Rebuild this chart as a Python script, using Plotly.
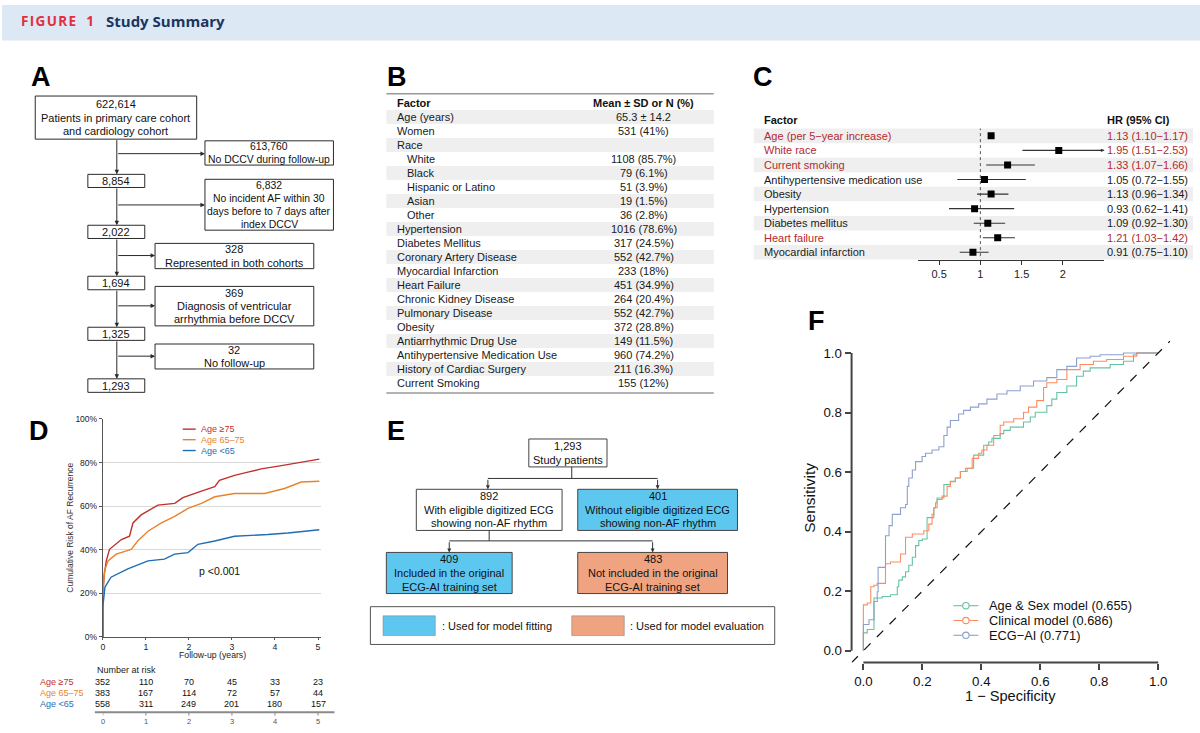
import plotly.graph_objects as go

W, H = 1200, 733


def P(x):
    return x / W


def Q(y):
    return 1 - y / H


FONT = "Liberation Sans, Arial, Helvetica, sans-serif"

# ------------------------------------------------------------------ data
# Panel A : cohort flow
flow_main_counts = ["622,614", "8,854", "2,022", "1,694", "1,325", "1,293"]
flow_first_label = ["Patients in primary care cohort", "and cardiology cohort"]
flow_excl_counts = ["613,760", "6,832", "328", "369", "32"]
flow_excl_labels = [
    ["No DCCV during follow-up"],
    ["No incident AF within 30", "days before to 7 days after", "index DCCV"],
    ["Represented in both cohorts"],
    ["Diagnosis of ventricular", "arrhythmia before DCCV"],
    ["No follow-up"],
]

# Panel B : baseline table
b_header = ["Factor", "Mean ± SD or N (%)"]
b_factors = ["Age (years)", "Women", "Race", "White", "Black", "Hispanic or Latino",
             "Asian", "Other", "Hypertension", "Diabetes Mellitus",
             "Coronary Artery Disease", "Myocardial Infarction", "Heart Failure",
             "Chronic Kidney Disease", "Pulmonary Disease", "Obesity",
             "Antiarrhythmic Drug Use", "Antihypertensive Medication Use",
             "History of Cardiac Surgery", "Current Smoking"]
b_indent = [0, 0, 0, 1, 1, 1, 1, 1, 0, 0, 0, 0, 0, 0, 0, 0, 0, 0, 0, 0]
b_values = ["65.3 ± 14.2", "531 (41%)", "", "1108 (85.7%)", "79 (6.1%)", "51 (3.9%)",
            "19 (1.5%)", "36 (2.8%)", "1016 (78.6%)", "317 (24.5%)", "552 (42.7%)",
            "233 (18%)", "451 (34.9%)", "264 (20.4%)", "552 (42.7%)", "372 (28.8%)",
            "149 (11.5%)", "960 (74.2%)", "211 (16.3%)", "155 (12%)"]

# Panel C : hazard ratios
c_header = ["Factor", "HR (95% CI)"]
c_factors = ["Age (per 5\u2212year increase)", "White race", "Current smoking",
             "Antihypertensive medication use", "Obesity", "Hypertension",
             "Diabetes mellitus", "Heart failure", "Myocardial infarction"]
c_hr = [1.13, 1.95, 1.33, 1.05, 1.13, 0.93, 1.09, 1.21, 0.91]
c_lo = [1.10, 1.51, 1.07, 0.72, 0.96, 0.62, 0.92, 1.03, 0.75]
c_hi = [1.17, 2.53, 1.66, 1.55, 1.34, 1.41, 1.30, 1.42, 1.10]
c_sig = [True, True, True, False, False, False, False, True, False]
c_ticks = [0.5, 1, 1.5, 2]
c_ticktext = ["0.5", "1", "1.5", "2"]

# Panel D : cumulative incidence
km_names = ["Age \u226575", "Age 65\u201375", "Age <65"]
km_t_75 = [0, 0, 0.03, 0.08, 0.155, 0.31, 0.43, 0.62, 0.70, 0.89, 1.085, 1.28,
           1.67, 1.86, 2.29, 2.60, 2.71, 3.06, 3.37, 3.68, 4.15, 4.61, 5.03]
km_r_75 = [0, 0.20, 0.28, 0.349, 0.402, 0.425, 0.447, 0.462, 0.523, 0.56, 0.583,
           0.605, 0.613, 0.639, 0.669, 0.689, 0.718, 0.741, 0.756, 0.771, 0.786,
           0.801, 0.816]
km_t_6575 = [0, 0, 0.04, 0.12, 0.31, 0.66, 0.81, 1.05, 1.36, 1.67, 1.98, 2.29,
             2.60, 3.06, 3.76, 4.22, 4.61, 5.03]
km_r_6575 = [0, 0.20, 0.304, 0.349, 0.38, 0.402, 0.44, 0.485, 0.523, 0.553, 0.59,
             0.613, 0.643, 0.658, 0.658, 0.681, 0.711, 0.714]
km_t_65 = [0, 0, 0.05, 0.19, 0.58, 1.05, 1.43, 1.67, 1.98, 2.21, 2.60, 3.06, 3.83,
           4.30, 5.03]
km_r_65 = [0, 0.139, 0.229, 0.274, 0.312, 0.349, 0.357, 0.38, 0.387, 0.425, 0.44,
           0.462, 0.47, 0.477, 0.492]
km_yticks = [0, 0.2, 0.4, 0.6, 0.8, 1.0]
km_yticktext = ["0%", "20%", "40%", "60%", "80%", "100%"]
risk_times = [0, 1, 2, 3, 4, 5]
risk_75 = [352, 110, 70, 45, 33, 23]
risk_6575 = [383, 167, 114, 72, 57, 44]
risk_65 = [558, 311, 249, 201, 180, 157]
p_text = "p <0.001"

# Panel E : ECG flow
e_top = ["1,293", "Study patients"]
e_mid_left = ["892", "With eligible digitized ECG", "showing non-AF rhythm"]
e_mid_right = ["401", "Without eligible digitized ECG", "showing non-AF rhythm"]
e_bot_left = ["409", "Included in the original", "ECG-AI training set"]
e_bot_right = ["483", "Not included in the original", "ECG-AI training set"]
e_legend = [": Used for model fitting", ": Used for model evaluation"]

# Panel F : ROC curves
roc_names = ["Age & Sex model", "Clinical model", "ECG\u2212AI"]
roc_auc = [0.655, 0.686, 0.771]
roc_fpr_agesex = [0, 0, 0.013, 0.036, 0.036, 0.064, 0.092, 0.115, 0.12, 0.132, 0.143,
                  0.154, 0.166, 0.177, 0.188, 0.2, 0.216, 0.239, 0.245, 0.25, 0.273,
                  0.295, 0.312, 0.329, 0.352, 0.374, 0.408, 0.425, 0.436, 0.464,
                  0.476, 0.498, 0.543, 0.566, 0.583, 0.622, 0.639, 0.656, 0.69,
                  0.723, 0.746, 0.769, 0.837, 0.882, 0.916, 0.927, 1]
roc_tpr_agesex = [0, 0.049, 0.06, 0.071, 0.165, 0.177, 0.182, 0.188, 0.215, 0.237,
                  0.248, 0.265, 0.287, 0.314, 0.353, 0.37, 0.375, 0.447, 0.48, 0.497,
                  0.513, 0.558, 0.569, 0.58, 0.602, 0.613, 0.657, 0.69, 0.701, 0.713,
                  0.729, 0.74, 0.751, 0.768, 0.785, 0.801, 0.823, 0.845, 0.867,
                  0.889, 0.922, 0.939, 0.95, 0.961, 0.972, 0.994, 1]
roc_fpr_clin = [0, 0, 0.013, 0.025, 0.036, 0.047, 0.075, 0.075, 0.092, 0.126, 0.143,
                0.166, 0.205, 0.222, 0.233, 0.239, 0.25, 0.25, 0.267, 0.284, 0.295,
                0.312, 0.329, 0.346, 0.369, 0.391, 0.402, 0.419, 0.442, 0.464, 0.476,
                0.51, 0.543, 0.56, 0.588, 0.611, 0.622, 0.656, 0.69, 0.735, 0.78,
                0.825, 0.882, 0.927, 1]
roc_tpr_clin = [0, 0.054, 0.154, 0.16, 0.215, 0.22, 0.226, 0.27, 0.292, 0.298, 0.325,
                0.381, 0.392, 0.403, 0.425, 0.458, 0.48, 0.497, 0.508, 0.519, 0.552,
                0.568, 0.58, 0.602, 0.613, 0.646, 0.663, 0.674, 0.69, 0.723, 0.757,
                0.768, 0.779, 0.801, 0.818, 0.84, 0.884, 0.9, 0.911, 0.944, 0.961,
                0.972, 0.978, 0.989, 1]
roc_fpr_ecg = [0, 0, 0.019, 0.036, 0.036, 0.047, 0.05, 0.075, 0.087, 0.098, 0.126,
               0.143, 0.149, 0.154, 0.166, 0.177, 0.199, 0.211, 0.233, 0.256, 0.273,
               0.284, 0.295, 0.323, 0.34, 0.363, 0.391, 0.419, 0.453, 0.487, 0.532,
               0.577, 0.622, 0.656, 0.69, 0.723, 0.769, 0.803, 0.882, 0.927, 1]
roc_tpr_ecg = [0, 0.077, 0.088, 0.104, 0.137, 0.165, 0.198, 0.28, 0.386, 0.42, 0.458,
               0.48, 0.491, 0.552, 0.58, 0.607, 0.635, 0.652, 0.663, 0.674, 0.685,
               0.723, 0.751, 0.773, 0.795, 0.807, 0.818, 0.829, 0.845, 0.862, 0.873,
               0.889, 0.906, 0.917, 0.944, 0.955, 0.983, 0.989, 0.994, 1.0, 1.0]
roc_ticks = [0, 0.2, 0.4, 0.6, 0.8, 1.0]
roc_ticktext = ["0.0", "0.2", "0.4", "0.6", "0.8", "1.0"]

# ------------------------------------------------------------------ styles
RED_C = "#b5292f"
KM_COLORS = ["#c0312d", "#e8832c", "#1f6db4"]
ROC_COLORS = ["#66c2a5", "#fc8d62", "#8da0cb"]
BLUE_BOX = "#5ec7ef"
SALMON_BOX = "#f0a380"
BAND = "#efefef"

shapes = []
annotations = []


def rect(x0, y0, x1, y1, fill="rgba(0,0,0,0)", line="#2a2a2a", lw=1.0):
    shapes.append(dict(type="rect", xref="paper", yref="paper",
                       x0=P(x0), x1=P(x1), y0=Q(y1), y1=Q(y0),
                       line=dict(color=line, width=lw), fillcolor=fill, layer="below"))


def seg(x0, y0, x1, y1, color="#2a2a2a", width=1.0, dash="solid"):
    shapes.append(dict(type="line", xref="paper", yref="paper",
                       x0=P(x0), x1=P(x1), y0=Q(y0), y1=Q(y1),
                       line=dict(color=color, width=width, dash=dash)))


def txt(x, y, s, size=11, color="#111", xa="center", ya="middle", family=FONT, angle=0):
    annotations.append(dict(xref="paper", yref="paper", x=P(x), y=Q(y), text=s,
                            showarrow=False, xanchor=xa, yanchor=ya, textangle=angle,
                            font=dict(size=size, color=color, family=family),
                            borderpad=0))


def arrow(xt, yt, xh, yh, color="#2a2a2a", size=0.9, width=1.0):
    annotations.append(dict(xref="paper", yref="paper", x=P(xh), y=Q(yh),
                            ax=xt - xh, ay=yt - yh, axref="pixel", ayref="pixel",
                            text="", showarrow=True, arrowhead=2, arrowsize=size,
                            arrowwidth=width, arrowcolor=color, standoff=0))


def box_lines(cx, cy, lines, size=11, spacing=13.4, color="#111"):
    n = len(lines)
    for k, s in enumerate(lines):
        txt(cx, cy + (k - (n - 1) / 2) * spacing, s, size=size, color=color)


# ------------------------------------------------------------------ header
rect(0, 0, 1200, 36, fill="#dde8f5", line="rgba(0,0,0,0)", lw=0)
txt(18, 16.5, "<b>F\u200aI\u200aG\u200aU\u200aR\u200aE\u2002 1</b>", size=13.5,
    color="#e0303f", xa="left", family="Open Sans, Noto Sans, sans-serif")
txt(103, 16, "<b>Study Summary</b>", size=15, color="#1b355f", xa="left",
    family="Open Sans, Noto Sans, sans-serif")

# panel letters
for lab, lx, ly in [("A", 28, 73), ("B", 385, 73), ("C", 751, 73), ("D", 26, 432),
                    ("E", 385, 432), ("F", 806, 320)]:
    txt(lx, ly, "<b>%s</b>" % lab, size=27, color="#000", xa="left")

# ------------------------------------------------------------------ panel A
main_boxes = [(33.3, 92.3, 195, 136), (86, 171.7, 143, 185), (86, 223.3, 143, 236.7),
              (86, 275, 143, 288.7), (86, 326.7, 143, 340), (86, 379, 143, 392.7)]
excl_boxes = [(203.3, 137.7, 332, 162.3), (203.3, 176.7, 332, 228.3),
              (153.3, 241.7, 312.3, 267.3), (153.3, 285.3, 312.3, 325.3),
              (153.3, 343.7, 312.3, 369)]
excl_font = [10.4, 10.4, 11, 11, 11]
excl_arrow_y = [150.7, 202.7, 254, 305, 356]
spine_x = 115
for i, (x0, y0, x1, y1) in enumerate(main_boxes):
    rect(x0, y0, x1, y1, fill="white")
    lines = [flow_main_counts[i]] + (flow_first_label if i == 0 else [])
    box_lines((x0 + x1) / 2, (y0 + y1) / 2, lines)
    if i > 0:
        arrow(spine_x, main_boxes[i - 1][3], spine_x, y0)
for i, (x0, y0, x1, y1) in enumerate(excl_boxes):
    rect(x0, y0, x1, y1, fill="white")
    box_lines((x0 + x1) / 2, (y0 + y1) / 2, [flow_excl_counts[i]] + flow_excl_labels[i],
              size=excl_font[i], spacing=13.1 if excl_font[i] < 11 else 13.4)
    arrow(spine_x, excl_arrow_y[i], x0, excl_arrow_y[i])

# ------------------------------------------------------------------ panel B
b_x0, b_x1 = 385, 713
b_row0 = 99.3
b_dy = 14.2
seg(b_x0, 90, b_x1, 90, color="#9a9a9a", width=1.5)
txt(395, b_row0, "<b>%s</b>" % b_header[0], size=11, xa="left")
txt(643, b_row0, "<b>%s</b>" % b_header[1], size=11)
for i, (f, ind, v) in enumerate(zip(b_factors, b_indent, b_values)):
    yc = b_row0 + (i + 1) * b_dy
    if i % 2 == 0:
        rect(b_x0, yc - b_dy / 2, b_x1, yc + b_dy / 2, fill=BAND, line="rgba(0,0,0,0)", lw=0)
    txt(395 + 9.5 * ind, yc, f, size=11, xa="left", color="#1a1a1a")
    if v:
        txt(643, yc, v, size=11, color="#1a1a1a")
seg(b_x0, b_row0 + 20.7 * b_dy, b_x1, b_row0 + 20.7 * b_dy, color="#9a9a9a", width=1.5)

# ------------------------------------------------------------------ panel C
c_row0 = 132.7
c_dy = 14.75
txt(762, 117, "<b>%s</b>" % c_header[0], size=11, xa="left")
txt(1106, 117, "<b>%s</b>" % c_header[1], size=11, xa="left")
for i, f in enumerate(c_factors):
    yc = c_row0 + i * c_dy
    if i % 2 == 0:
        rect(753, yc - c_dy / 2, 1193, yc + c_dy / 2, fill=BAND, line="rgba(0,0,0,0)", lw=0)
    col = RED_C if c_sig[i] else "#1a1a1a"
    txt(762, yc, f, size=11, xa="left", color=col)
    txt(1106, yc, "%.2f (%.2f\u2212%.2f)" % (c_hr[i], c_lo[i], c_hi[i]), size=11,
        xa="left", color=col)

ci_x, ci_y = [], []
for i in range(len(c_hr)):
    ci_x += [c_lo[i], c_hi[i], None]
    ci_y += [i, i, None]
c_xmax = 2.5
for i in range(len(c_hr)):
    if c_hi[i] > c_xmax:
        annotations.append(dict(xref="x2", yref="y2", x=c_xmax, y=i, ax=-8, ay=0,
                                text="", showarrow=True, arrowhead=2, arrowsize=0.8,
                                arrowwidth=0.8, arrowcolor="#333", standoff=0))
shapes.append(dict(type="line", xref="x2", yref="y2", x0=1, x1=1, y0=-0.6, y1=8.5,
                   line=dict(color="#555", width=1, dash="dot"), layer="below"))

# ------------------------------------------------------------------ panel D
txt(68, 530, "Cumulative Risk of AF Recurrence", size=8.5, color="#333", angle=-90)
txt(211, 659, "Follow-up (years)", size=8.7, color="#222")
txt(218, 574, p_text, size=10.5, color="#111")
leg_y = [430, 440.7, 451.7]
for k in range(3):
    seg(181, leg_y[k], 194, leg_y[k], color=KM_COLORS[k], width=1.4)
    txt(198, leg_y[k], km_names[k], size=9, color=KM_COLORS[k], xa="left")

txt(94, 674, "Number at risk", size=9, color="#222", xa="left")
risk_rows = [risk_75, risk_6575, risk_65]
risk_y = [686, 697.3, 708.7]
for k in range(3):
    txt(37, risk_y[k], km_names[k], size=9, color=KM_COLORS[k], xa="left")
    for t, n in zip(risk_times, risk_rows[k]):
        annotations.append(dict(xref="x", yref="paper", x=t, y=Q(risk_y[k]), text=str(n),
                                showarrow=False, xanchor="center", yanchor="middle",
                                font=dict(size=9, color="#111", family=FONT)))
seg(93, 717, 333, 717, color="#8a8a8a", width=2)
for t in risk_times:
    annotations.append(dict(xref="x", yref="paper", x=t, y=Q(726.5), text=str(t),
                            showarrow=False, xanchor="center", yanchor="middle",
                            font=dict(size=7.5, color="#555", family=FONT)))
    shapes.append(dict(type="line", xref="x", yref="paper", x0=t, x1=t,
                       y0=Q(717), y1=Q(720.5), line=dict(color="#8a8a8a", width=1)))

# ------------------------------------------------------------------ panel E
e_top_box = (527.7, 440, 606, 468.3)
e_ml = (415, 491, 561, 532.7)
e_mr = (576.7, 491, 736.7, 532.7)
e_bl = (385, 555, 511, 596.7)
e_br = (576.7, 555, 726.7, 596.7)
for bx, fill, lines in [(e_top_box, "white", e_top), (e_ml, "white", e_mid_left),
                        (e_mr, BLUE_BOX, e_mid_right), (e_bl, BLUE_BOX, e_bot_left),
                        (e_br, SALMON_BOX, e_bot_right)]:
    rect(*bx, fill=fill, line="#444")
    box_lines((bx[0] + bx[2]) / 2, (bx[1] + bx[3]) / 2, lines, spacing=13.8)
# connectors
seg(570.7, 468.3, 570.7, 480, color="#333")
seg(486.7, 480, 656.7, 480, color="#333")
arrow(486.7, 480, 486.7, 491, color="#333", size=0.8)
arrow(656.7, 480, 656.7, 491, color="#333", size=0.8)
seg(488, 532.7, 488, 543.3, color="#333")
seg(448, 543.3, 651.7, 543.3, color="#333")
arrow(448, 543.3, 448, 555, color="#333", size=0.8)
arrow(651.7, 543.3, 651.7, 555, color="#333", size=0.8)
# legend box
rect(369, 610, 774, 648.3, fill="white", line="#555")
rect(381.7, 619.3, 434, 639.3, fill=BLUE_BOX, line="#888", lw=0.6)
rect(570.7, 619.3, 623.3, 639.3, fill=SALMON_BOX, line="#888", lw=0.6)
txt(440, 629.5, e_legend[0], size=11, xa="left")
txt(628, 629.5, e_legend[1], size=11, xa="left")

# ------------------------------------------------------------------ panel F
shapes.append(dict(type="line", xref="x3", yref="y3", x0=-0.04, y0=-0.04, x1=1.04,
                   y1=1.04, line=dict(color="#111", width=1.2, dash="dash")))
shapes.append(dict(type="line", xref="x3", yref="paper", x0=0, x1=1, y0=Q(666.7),
                   y1=Q(666.7), line=dict(color="#444", width=2)))
shapes.append(dict(type="line", xref="paper", yref="y3", x0=P(851), x1=P(851), y0=0,
                   y1=1, line=dict(color="#444", width=2)))
txt(809, 500, "Sensitivity", size=15.5, color="#111", angle=-90)
txt(1010.5, 700.5, "1 \u2212 Specificity", size=14.6, color="#111")
f_leg_y = [609, 624, 639]
for k in range(3):
    seg(953, f_leg_y[k], 978, f_leg_y[k], color=ROC_COLORS[k], width=1.1)
    shapes.append(dict(type="circle", xref="paper", yref="paper",
                       x0=P(962.3), x1=P(968.7), y0=Q(f_leg_y[k] + 3.2),
                       y1=Q(f_leg_y[k] - 3.2), fillcolor="white",
                       line=dict(color=ROC_COLORS[k], width=1.1)))
    txt(988, f_leg_y[k], "%s (%.3f)" % (roc_names[k], roc_auc[k]), size=12.8,
        color="#111", xa="left")

# ------------------------------------------------------------------ traces
fig = go.Figure()
for k, (tt, rr) in enumerate([(km_t_75, km_r_75), (km_t_6575, km_r_6575),
                              (km_t_65, km_r_65)]):
    fig.add_trace(go.Scatter(x=tt, y=rr, mode="lines", line_shape="linear",
                             line=dict(color=KM_COLORS[k], width=1.4),
                             xaxis="x", yaxis="y", hoverinfo="skip"))

fig.add_trace(go.Scatter(x=ci_x, y=ci_y, mode="lines", line=dict(color="#333", width=1.1),
                         xaxis="x2", yaxis="y2", hoverinfo="skip"))
fig.add_trace(go.Scatter(x=c_hr, y=list(range(len(c_hr))), mode="markers",
                         marker=dict(symbol="square", size=7, color="#000"),
                         xaxis="x2", yaxis="y2", hoverinfo="skip"))

for k, (fx, fy) in enumerate([(roc_fpr_agesex, roc_tpr_agesex),
                              (roc_fpr_clin, roc_tpr_clin),
                              (roc_fpr_ecg, roc_tpr_ecg)]):
    fig.add_trace(go.Scatter(x=fx, y=fy, mode="lines", line_shape="vh",
                             line=dict(color=ROC_COLORS[k], width=1.1),
                             xaxis="x3", yaxis="y3", hoverinfo="skip"))

fig.update_layout(
    width=W, height=H, autosize=False,
    margin=dict(l=0, r=0, t=0, b=0, pad=0),
    paper_bgcolor="white", plot_bgcolor="rgba(0,0,0,0)",
    showlegend=False,
    font=dict(family=FONT, size=11, color="#111"),
    shapes=shapes, annotations=annotations,
    xaxis=dict(domain=[P(101), P(320)], range=[0, 5.08], tickvals=risk_times,
               ticks="outside", ticklen=2, tickcolor="#555", showline=True,
               linecolor="#555", linewidth=1, showgrid=False, zeroline=False,
               tickfont=dict(size=8.7, color="#222"), anchor="y"),
    yaxis=dict(domain=[Q(640.7), Q(419.7)], range=[0, 1], tickvals=km_yticks,
               ticktext=km_yticktext, ticks="outside", ticklen=3, tickcolor="#555",
               showline=True, linecolor="#555", linewidth=1, showgrid=True,
               gridcolor="#dadada", gridwidth=1, zeroline=False,
               tickfont=dict(size=8.5, color="#222"), anchor="x"),
    xaxis2=dict(domain=[P(918), P(1104)], range=[0.25, 2.5], tickvals=c_ticks,
                ticktext=c_ticktext, ticks="outside", ticklen=4, tickcolor="#333",
                showline=True, linecolor="#333", linewidth=1, showgrid=False,
                zeroline=False, tickfont=dict(size=11, color="#222"), anchor="y2"),
    yaxis2=dict(domain=[Q(258.1), Q(125.3)], range=[8.5, -0.5], visible=False,
                anchor="x2"),
    xaxis3=dict(domain=[P(851), P(1170)], range=[-0.04, 1.04], tickvals=roc_ticks,
                ticktext=roc_ticktext, ticks="outside", ticklen=6, tickwidth=1.5,
                tickcolor="#444", showline=False, showgrid=False, zeroline=False,
                tickfont=dict(size=13.3, color="#111"), anchor="y3"),
    yaxis3=dict(domain=[Q(666.7), Q(340.7)], range=[-0.04, 1.04], tickvals=roc_ticks,
                ticktext=roc_ticktext, ticks="outside", ticklen=6, tickwidth=1.5,
                tickcolor="#444", showline=False, showgrid=False, zeroline=False,
                tickfont=dict(size=13.3, color="#111"), anchor="x3"),
)

fig.write_html("out.html", config={"displayModeBar": False},
               post_script="document.body.style.margin='0px';")
